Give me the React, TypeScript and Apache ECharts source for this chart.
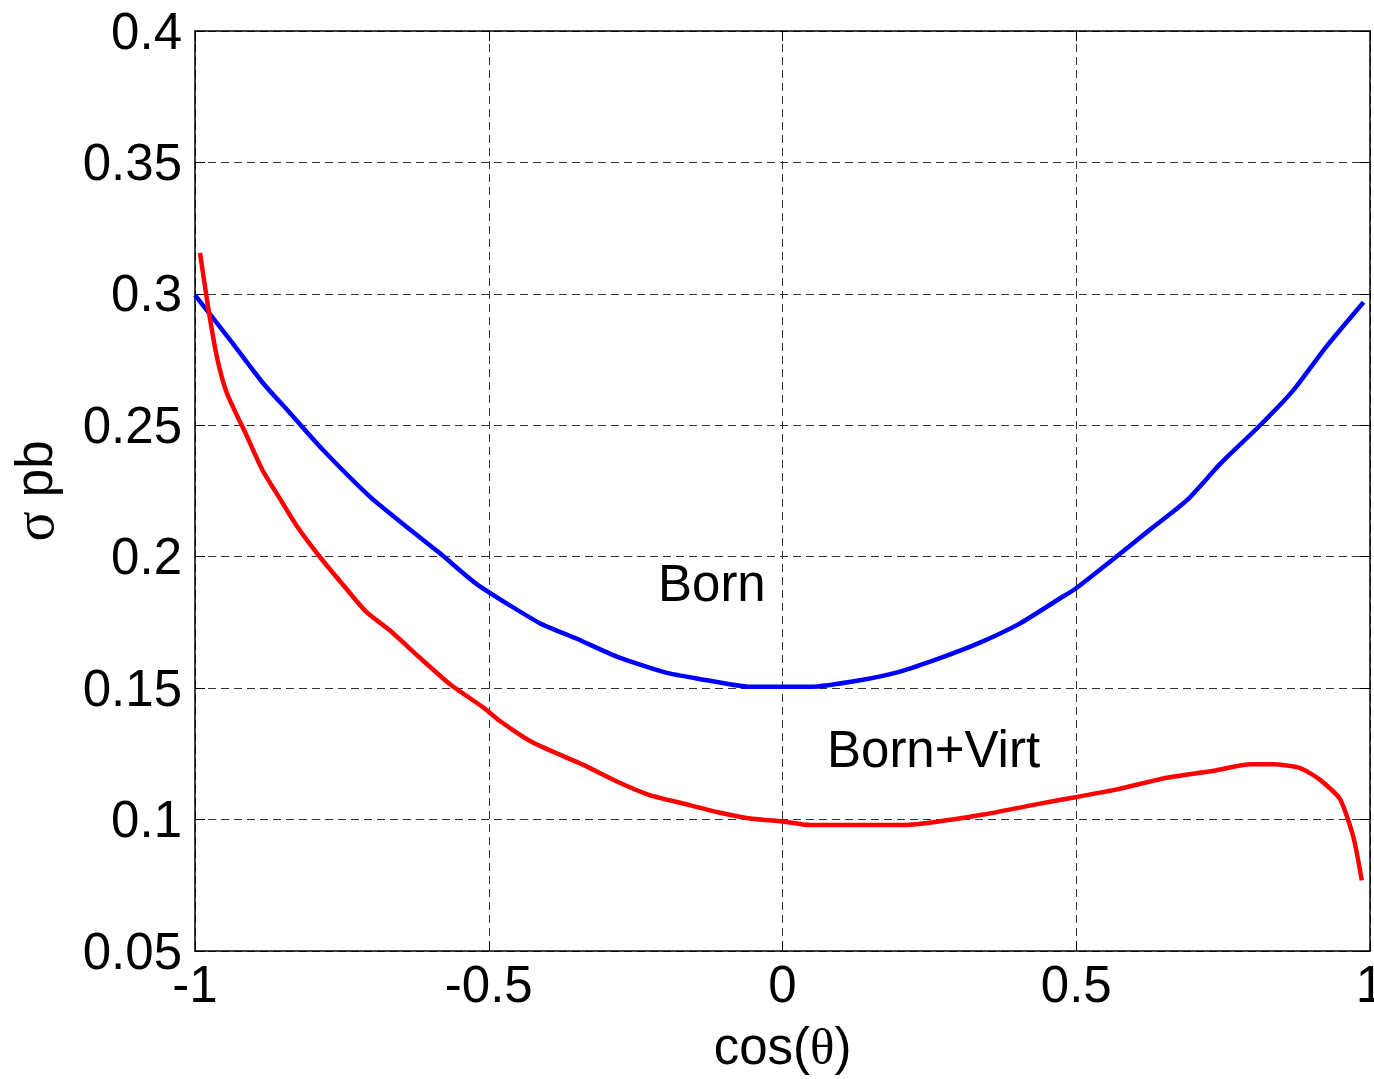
import React, { useEffect, useRef } from "react";
import * as echarts from "echarts";

const bornX = [-1.0, -0.94, -0.884, -0.838, -0.782, -0.702, -0.64, -0.583, -0.52, -0.413, -0.35, -0.282, -0.2, -0.146, -0.055, 0.047, 0.132, 0.2, 0.268, 0.336, 0.404, 0.472, 0.498, 0.557, 0.626, 0.688, 0.745, 0.813, 0.869, 0.926, 0.989];
const bornY = [0.2995, 0.2824, 0.266, 0.2546, 0.2406, 0.2228, 0.2114, 0.2013, 0.1895, 0.1747, 0.1688, 0.162, 0.156, 0.1537, 0.1505, 0.1505, 0.153, 0.1563, 0.1614, 0.1673, 0.1746, 0.1841, 0.1877, 0.198, 0.2104, 0.2214, 0.2353, 0.25, 0.2632, 0.28, 0.2968];

const virtX = [-0.9915, -0.977, -0.963, -0.946, -0.912, -0.886, -0.855, -0.827, -0.787, -0.742, -0.708, -0.668, -0.617, -0.566, -0.509, -0.481, -0.424, -0.339, -0.282, -0.226, -0.169, -0.112, -0.055, -0.004, 0.047, 0.2, 0.257, 0.342, 0.427, 0.498, 0.569, 0.654, 0.739, 0.796, 0.835, 0.881, 0.915, 0.949, 0.972, 0.986];
const virtY = [0.3156, 0.294, 0.2763, 0.2624, 0.246, 0.2333, 0.2219, 0.2118, 0.1998, 0.1877, 0.1789, 0.1719, 0.1615, 0.1515, 0.1426, 0.1375, 0.1292, 0.1208, 0.1145, 0.1093, 0.1061, 0.1029, 0.1004, 0.0994, 0.0979, 0.0979, 0.099, 0.1019, 0.1056, 0.1085, 0.1115, 0.1159, 0.1188, 0.121, 0.121, 0.1196, 0.1151, 0.1078, 0.0931, 0.0769];

const xTicks = { min: -1, max: 1, interval: 0.5 };
const yTicks = { min: 0.05, max: 0.4, interval: 0.05 };

const FONT = "'Liberation Sans', Arial, sans-serif";
const SERIF = "'Liberation Serif', 'DejaVu Serif', serif";
const FS = 51;

export default function App() {
  const ref = useRef<HTMLDivElement>(null);
  useEffect(() => {
    const chart = echarts.init(ref.current!, null, { renderer: "svg", width: 1374, height: 1079 });
    const gridLine = { show: true, lineStyle: { color: "#333", width: 1, type: [8, 5] as any } };
    const axisLine = { show: true, onZero: false, lineStyle: { color: "#000", width: 1.5 } };
    const tick = { show: true, inside: true, length: 10, lineStyle: { color: "#000", width: 1 } };
    chart.setOption({
      animation: false,
      backgroundColor: "#fff",
      grid: { left: 195, right: 4, top: 31, bottom: 128, containLabel: false, outerBoundsMode: "none" },
      xAxis: [
        {
          type: "value",
          ...xTicks,
          position: "bottom",
          axisLine,
          axisTick: tick,
          splitLine: gridLine,
          axisLabel: { fontSize: FS, color: "#000", fontFamily: FONT, margin: 8 },
          name: "cos({t|θ})",
          nameLocation: "middle",
          nameGap: 70,
          nameTextStyle: {
            fontSize: FS,
            color: "#000",
            fontFamily: FONT,
            rich: { t: { fontSize: FS, fontFamily: SERIF, color: "#000" } },
          },
        },
        {
          type: "value",
          ...xTicks,
          position: "top",
          axisLine,
          axisTick: tick,
          splitLine: { show: false },
          axisLabel: { show: false },
        },
      ],
      yAxis: [
        {
          type: "value",
          ...yTicks,
          position: "left",
          axisLine,
          axisTick: tick,
          splitLine: gridLine,
          axisLabel: { fontSize: FS, color: "#000", fontFamily: FONT, margin: 13 },
          name: "{s|σ} pb",
          nameLocation: "middle",
          nameGap: 133,
          nameRotate: 90,
          nameTextStyle: {
            fontSize: FS,
            color: "#000",
            fontFamily: FONT,
            rich: { s: { fontSize: 56, fontFamily: SERIF, color: "#000" } },
          },
        },
        {
          type: "value",
          ...yTicks,
          position: "right",
          axisLine,
          axisTick: tick,
          splitLine: { show: false },
          axisLabel: { show: false },
        },
      ],
      series: [
        {
          name: "Born",
          type: "line",
          xAxisIndex: 0,
          yAxisIndex: 0,
          data: bornX.map((x, i) => [x, bornY[i]]),
          showSymbol: false,
          smooth: 0.2,
          lineStyle: { color: "#0000ff", width: 4.5 },
          itemStyle: { color: "#0000ff" },
          z: 3,
        },
        {
          name: "Born+Virt",
          type: "line",
          xAxisIndex: 0,
          yAxisIndex: 0,
          data: virtX.map((x, i) => [x, virtY[i]]),
          showSymbol: false,
          smooth: 0.2,
          lineStyle: { color: "#ff0000", width: 4.5 },
          itemStyle: { color: "#ff0000" },
          z: 4,
        },
      ],
      graphic: [
        {
          type: "text",
          x: 658,
          y: 583,
          style: { text: "Born", fontSize: FS, fontFamily: FONT, fill: "#000", textAlign: "left", textVerticalAlign: "middle" },
        },
        {
          type: "text",
          x: 827,
          y: 749,
          style: { text: "Born+Virt", fontSize: FS, fontFamily: FONT, fill: "#000", textAlign: "left", textVerticalAlign: "middle" },
        },
      ],
    });
    return () => chart.dispose();
  }, []);
  return (
    <div
      ref={ref}
      style={{ position: "absolute", left: 0, top: 0, width: 1374, height: 1079, background: "#fff" }}
    />
  );
}
